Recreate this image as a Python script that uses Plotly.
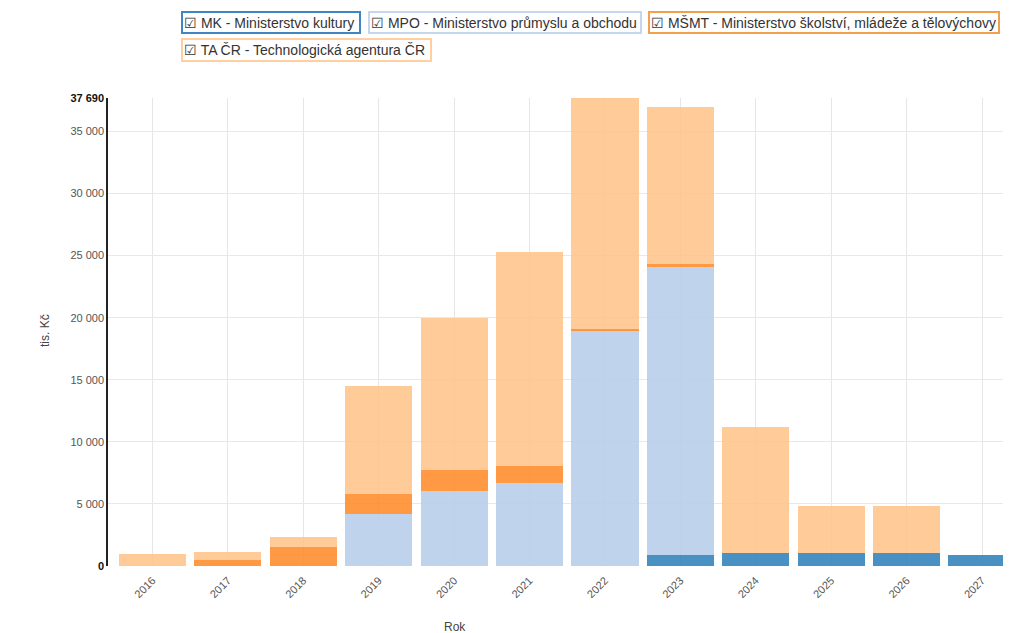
import plotly.graph_objects as go

years = ["2016", "2017", "2018", "2019", "2020", "2021", "2022", "2023", "2024", "2025", "2026", "2027"]
mk = [0, 0, 0, 0, 0, 0, 0, 920, 1070, 1070, 1070, 890]
mpo = [0, 0, 0, 4150, 6050, 6650, 19000, 23150, 0, 0, 0, 0]
msmt = [0, 450, 1550, 1650, 1650, 1400, 60, 250, 0, 0, 0, 0]
tacr = [950, 700, 770, 8700, 12300, 17200, 18630, 12640, 10090, 3760, 3760, 0]

series_names = ["MK - Ministerstvo kultury", "MPO - Ministerstvo průmyslu a obchodu",
                "MŠMT - Ministerstvo školství, mládeže a tělovýchovy", "TA ČR - Technologická agentura ČR"]
series_values = [mk, mpo, msmt, tacr]
colors = ["#3684bd", "#b9cfea", "#ff8e2f", "#ffc68e"]
border_colors = ["#3f86c2", "#c5d7ee", "#f2a04e", "#ffcf9f"]

y_max = 37690
y_tick_vals = [0, 5000, 10000, 15000, 20000, 25000, 30000, 35000, 37690]
y_tick_text = ["<span style='color:#111'><b>0</b></span>", "5 000", "10 000", "15 000", "20 000",
               "25 000", "30 000", "35 000", "<span style='color:#111'><b>37 690</b></span>"]

OFF = 8  # page body margin
W, H = 1011, 633
L, T = 108 - OFF, 98 - OFF
PH = 468
B = H - T - PH
PW = W - L
SCR_L, SCR_B = 108, 566  # on-screen plot left / bottom

def px(x):
    return (x - SCR_L) / PW

def py(y):
    return (SCR_B - y) / PH

fig = go.Figure()
for name, vals, col in zip(series_names, series_values, colors):
    fig.add_trace(go.Bar(x=years, y=vals, name=name, marker=dict(color=col, line=dict(width=0)),
                         opacity=0.9, showlegend=False))

# legend boxes (as annotations)
boxes = [(181, 361, 11, 34), (368, 642, 11, 34), (648, 1000, 11, 34), (181, 432, 38, 62)]
for (x0, x1, y0, y1), name, bc in zip(boxes, series_names, border_colors):
    fig.add_annotation(
        x=px((x0 + x1) / 2), y=py((y0 + y1) / 2), xref="paper", yref="paper",
        xanchor="center", yanchor="middle", showarrow=False,
        text="☑ " + name, font=dict(family="Liberation Sans, Arial", size=14, color="#333"),
        bordercolor=bc, borderwidth=2, borderpad=1, bgcolor="white",
        width=(x1 - x0) - 6, height=(y1 - y0) - 6, align="left",
    )

fig.add_annotation(x=px(455), y=py(627), xref="paper", yref="paper", showarrow=False,
                   xanchor="center", yanchor="middle",
                   text="Rok", font=dict(family="Liberation Sans, Arial", size=12, color="#444"))
fig.add_annotation(x=px(45), y=py(330), xref="paper", yref="paper", showarrow=False,
                   xanchor="center", yanchor="middle",
                   text="tis. Kč", textangle=-90,
                   font=dict(family="Liberation Sans, Arial", size=12, color="#444"))

fig.update_layout(
    width=W, height=H, barmode="stack", bargap=0.11,
    margin=dict(l=L, r=0, t=T, b=B),
    plot_bgcolor="white", paper_bgcolor="white",
    font=dict(family="Liberation Sans, Arial", size=11, color="#555"),
)
fig.update_xaxes(range=[-0.59, 11.49], showgrid=True, gridcolor="#e6e6e6", showline=False,
                 tickangle=-45, ticks="", tickfont=dict(size=11, color="#555"), zeroline=False,
                 ticklabelstandoff=5)
fig.update_yaxes(range=[0, y_max], tickvals=y_tick_vals, ticktext=y_tick_text,
                 showgrid=True, gridcolor="#e8e8e8", showline=True, linecolor="#222", linewidth=1.5,
                 ticks="", tickfont=dict(size=11, color="#555"), zeroline=False)

fig.write_html("out.html")
